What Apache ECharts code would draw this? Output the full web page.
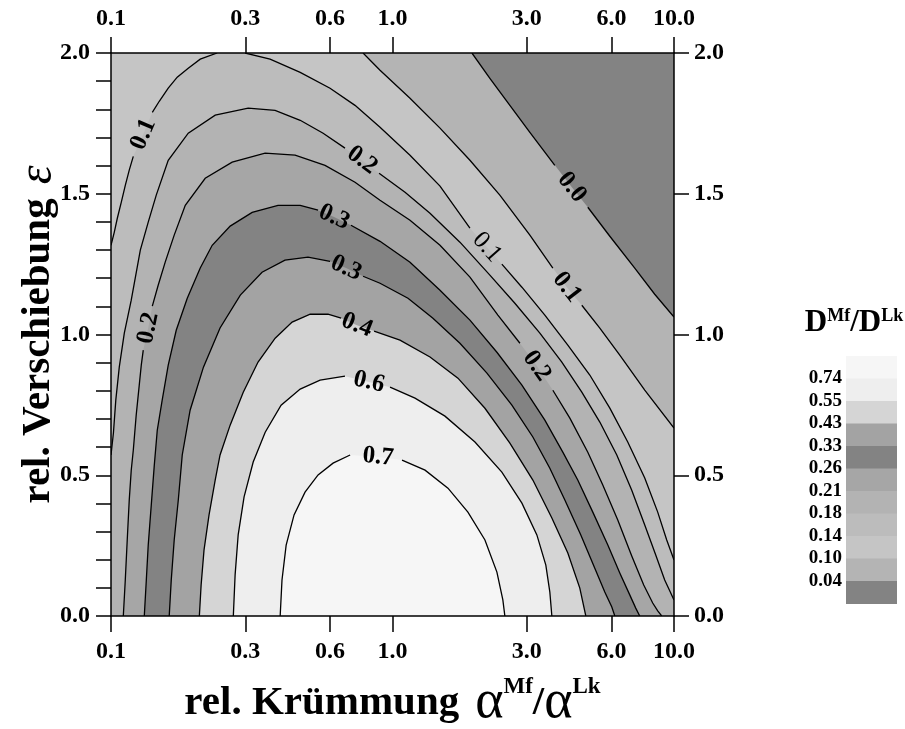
<!DOCTYPE html>
<html>
<head>
<meta charset="utf-8">
<script src="https://cdn.jsdelivr.net/npm/echarts@6/dist/echarts.min.js"></script>
<style>
  html, body { margin: 0; padding: 0; background: #ffffff; }
  #chart { width: 905px; height: 729px; }
</style>
</head>
<body>
<div id="chart"></div>
<script>
// Contour levels of D^Mf / D^Lk and the grey tone of each band (lowest band first)
const levels = [0.04, 0.10, 0.14, 0.18, 0.21, 0.26, 0.33, 0.43, 0.55, 0.74];
const bandColors = ['#838383', '#b4b4b4', '#c5c5c5', '#bcbcbc', '#b3b3b3', '#a6a6a6',
                    '#838383', '#a3a3a3', '#d5d5d5', '#eeeeee', '#f6f6f6'];

// Axis ticks
const xTicks = [0.1, 0.3, 0.6, 1, 3, 6, 10];
const xRange = [0.1, 10];
const yRange = [0, 2];

// Iso-lines as [alpha ratio, epsilon] pairs
const c004 = [[1.915, 2.0], [2.218, 1.910], [2.612, 1.814], [3.076, 1.718], [3.773, 1.601],
  [4.336, 1.523], [4.941, 1.452], [5.916, 1.349], [7.254, 1.236], [8.541, 1.143], [10, 1.062]];

const c010 = [[0.786, 2.0], [0.903, 1.9386], [1.154, 1.839], [1.475, 1.733], [1.884, 1.619],
  [2.406, 1.495], [3.076, 1.353], [3.712, 1.236], [4.162, 1.168], [4.704, 1.104],
  [5.451, 1.0226], [6.418, 0.9267], [7.872, 0.8024], [10, 0.6675]];

const c014a = [[0.2383, 2.0], [0.2075, 1.978], [0.1881, 1.946], [0.1719, 1.914], [0.1597, 1.875],
  [0.1484, 1.8285], [0.1402, 1.789], [0.1302, 1.711], [0.120, 1.633], [0.1161, 1.584],
  [0.1124, 1.530], [0.1088, 1.470], [0.1053, 1.413], [0.1027, 1.363], [0.100, 1.317]];

const c014b = [[0.2996, 2.0], [0.3674, 1.978], [0.470, 1.931], [0.600, 1.875], [0.736, 1.814],
  [0.903, 1.736], [1.154, 1.637], [1.475, 1.527], [1.884, 1.3776], [2.165, 1.310],
  [2.446, 1.250], [2.882, 1.168], [3.477, 1.069], [4.196, 0.962], [5.022, 0.856],
  [5.916, 0.7385], [6.850, 0.618], [7.872, 0.490], [8.753, 0.369], [9.422, 0.270], [10, 0.199]];

const c018 = [[0.100, 0.572], [0.102, 0.650], [0.104, 0.767], [0.107, 0.884], [0.1115, 1.005],
  [0.118, 1.122], [0.1271, 1.2995], [0.1356, 1.399], [0.1448, 1.495], [0.1597, 1.619],
  [0.1881, 1.715], [0.2345, 1.779], [0.3071, 1.804], [0.3828, 1.7965], [0.470, 1.761],
  [0.567, 1.715], [0.678, 1.662], [0.780, 1.619], [0.896, 1.573], [1.108, 1.505],
  [1.359, 1.431], [1.736, 1.328], [2.218, 1.211], [2.721, 1.111], [3.338, 1.005],
  [3.995, 0.902], [4.704, 0.795], [5.451, 0.689], [6.263, 0.572], [7.078, 0.447],
  [7.872, 0.323], [8.612, 0.217], [9.268, 0.128], [10, 0.057]];

const c021 = [[0.1106, 0], [0.1124, 0.128], [0.1142, 0.270], [0.1161, 0.412], [0.118, 0.518],
  [0.120, 0.589], [0.1229, 0.714], [0.126, 0.820], [0.1281, 0.891], [0.1302, 0.9445],
  [0.1356, 1.023], [0.1402, 1.101], [0.1471, 1.175], [0.1558, 1.257], [0.1677, 1.353],
  [0.1836, 1.459], [0.2161, 1.555], [0.2694, 1.612], [0.3527, 1.644], [0.4508, 1.637],
  [0.576, 1.601], [0.736, 1.541], [0.903, 1.477], [1.154, 1.406], [1.475, 1.317],
  [1.884, 1.204], [2.368, 1.069], [2.836, 0.969], [3.257, 0.888], [3.712, 0.802],
  [4.266, 0.703], [4.941, 0.582], [5.585, 0.465], [6.313, 0.341], [7.078, 0.213],
  [7.806, 0.110], [8.402, 0.046], [8.753, 0.018], [9.044, 0]];

const c026 = [[0.1313, 0], [0.1335, 0.128], [0.1356, 0.252], [0.139, 0.394], [0.1425, 0.536],
  [0.146, 0.660], [0.152, 0.767], [0.1597, 0.891], [0.1705, 1.015], [0.1866, 1.129],
  [0.2075, 1.236], [0.2288, 1.317], [0.2651, 1.385], [0.3173, 1.434], [0.392, 1.459],
  [0.470, 1.459], [0.544, 1.4415], [0.620, 1.417], [0.712, 1.388], [0.903, 1.331],
  [1.154, 1.257], [1.475, 1.157], [1.884, 1.051], [2.349, 0.937], [2.882, 0.820],
  [3.477, 0.696], [4.027, 0.582], [4.551, 0.483], [5.147, 0.369], [5.820, 0.252],
  [6.418, 0.153], [6.963, 0.075], [7.313, 0.028], [7.556, 0]];

const c033 = [[0.161, 0], [0.1637, 0.128], [0.1677, 0.270], [0.1734, 0.412], [0.1791, 0.572],
  [0.191, 0.731], [0.213, 0.884], [0.244, 1.023], [0.288, 1.140], [0.344, 1.221],
  [0.415, 1.264], [0.501, 1.275], [0.600, 1.260], [0.684, 1.236], [0.786, 1.207],
  [0.903, 1.182], [1.135, 1.129], [1.392, 1.058], [1.736, 0.969], [2.165, 0.863],
  [2.655, 0.749], [3.152, 0.636], [3.622, 0.525], [4.095, 0.412], [4.666, 0.288],
  [5.232, 0.170], [5.677, 0.085], [6.013, 0.032], [6.162, 0]];

const c043 = [[0.206, 0], [0.209, 0.110], [0.214, 0.234], [0.223, 0.359], [0.2345, 0.483],
  [0.244, 0.572], [0.265, 0.678], [0.295, 0.795], [0.333, 0.902], [0.383, 0.987],
  [0.440, 1.044], [0.510, 1.072], [0.590, 1.072], [0.657, 1.058], [0.748, 1.033],
  [0.860, 1.012], [1.063, 0.980], [1.359, 0.920], [1.708, 0.845], [2.130, 0.738],
  [2.612, 0.614], [3.152, 0.483], [3.682, 0.348], [4.196, 0.224], [4.628, 0.099], [4.861, 0]];

const c055 = [[0.272, 0], [0.276, 0.146], [0.283, 0.288], [0.297, 0.423], [0.320, 0.547],
  [0.353, 0.653], [0.402, 0.749], [0.470, 0.806], [0.553, 0.838], [0.678, 0.852],
  [0.825, 0.831], [0.980, 0.813], [1.202, 0.774], [1.536, 0.710], [1.963, 0.618],
  [2.446, 0.511], [2.882, 0.401], [3.257, 0.288], [3.505, 0.181], [3.622, 0.085], [3.682, 0]];

const c074 = [[0.399, 0], [0.405, 0.128], [0.419, 0.252], [0.447, 0.359], [0.489, 0.440],
  [0.544, 0.501], [0.615, 0.543], [0.707, 0.572], [0.889, 0.565], [1.081, 0.554],
  [1.305, 0.518], [1.574, 0.454], [1.853, 0.369], [2.130, 0.270], [2.349, 0.156],
  [2.466, 0.057], [2.507, 0]];

// Plot corners used to close the filled regions
const BL = [xRange[0], yRange[0]];
const BR = [xRange[1], yRange[0]];
const TL = [xRange[0], yRange[1]];

// Region where the ratio is at least levels[i]; drawn in ascending order
const fillPaths = [
  c004.concat([BR, BL, TL]),
  c010.concat([BR, BL, TL]),
  c014b.concat([BR, BL], c014a.slice().reverse()),
  c018.concat([BR, BL]),
  c021, c026, c033, c043, c055, c074
];

// Iso-lines with the index of the point carrying the inline label
const contours = [
  { level: levels[0], pts: c004, at: [5], weight: 'bold' },
  { level: levels[1], pts: c010, at: [8], weight: 'bold' },
  { level: levels[2], pts: c014a, at: [7], weight: 'bold' },
  { level: levels[2], pts: c014b, at: [9], weight: 'normal' },
  { level: levels[3], pts: c018, at: [17], weight: 'bold' },
  { level: levels[4], pts: c021, at: [10, 28], weight: 'bold' },
  { level: levels[5], pts: c026, at: [17], weight: 'bold' },
  { level: levels[6], pts: c033, at: [13], weight: 'bold' },
  { level: levels[7], pts: c043, at: [14], weight: 'bold' },
  { level: levels[8], pts: c055, at: [10], weight: 'bold' },
  { level: levels[9], pts: c074, at: [8], weight: 'bold' }
];

const serif = '"Liberation Serif", "Times New Roman", serif';
const tickFont = { fontFamily: serif, fontWeight: 'bold', fontSize: 24, color: '#000' };
const black = { color: '#000', width: 1.5 };

function renderFill(params, api) {
  const pts = fillPaths[params.dataIndex].map(p => api.coord(p));
  return {
    type: 'polygon',
    shape: { points: pts },
    style: { fill: bandColors[params.dataIndex + 1], stroke: null }
  };
}

function renderLine(params, api) {
  const c = contours[params.dataIndex];
  const px = c.pts.map(p => api.coord(p));
  const children = [];
  let start = 0;
  const addLine = seg => {
    if (seg.length > 1) {
      children.push({
        type: 'polyline',
        shape: { points: seg },
        style: { stroke: '#000', lineWidth: 1.3, fill: null }
      });
    }
  };
  c.at.forEach(k => {
    addLine(px.slice(start, k));
    start = k + 1;
  });
  addLine(px.slice(start));
  c.at.forEach(k => {
    const a = px[k - 1], b = px[k + 1];
    let ang = Math.atan2(b[1] - a[1], b[0] - a[0]);
    if (ang > Math.PI / 2) ang -= Math.PI;
    if (ang < -Math.PI / 2) ang += Math.PI;
    children.push({
      type: 'text',
      x: px[k][0],
      y: px[k][1],
      rotation: -ang,
      style: {
        text: c.level.toFixed(1),
        fill: '#000',
        fontFamily: serif,
        fontWeight: c.weight,
        fontSize: 25,
        align: 'center',
        verticalAlign: 'middle',
        textAlign: 'center',
        textVerticalAlign: 'middle'
      }
    });
  });
  return { type: 'group', children };
}

// Legend: grey bands from highest to lowest value with the level between neighbours
const legendTop = 356, legendStep = 22.5, legendX = 846, legendW = 51;
const legendGraphics = [];
bandColors.slice().reverse().forEach((col, i) => {
  legendGraphics.push({
    type: 'rect',
    shape: { x: legendX, y: legendTop + i * legendStep, width: legendW, height: legendStep + 0.5 },
    style: { fill: col, stroke: null }
  });
});
levels.slice().reverse().forEach((lv, i) => {
  legendGraphics.push({
    type: 'text',
    x: 842,
    y: legendTop + (i + 1) * legendStep,
    style: {
      text: lv.toFixed(2), fill: '#000', fontFamily: serif, fontWeight: 'bold', fontSize: 19,
      align: 'right', verticalAlign: 'middle', textAlign: 'right', textVerticalAlign: 'middle'
    }
  });
});
legendGraphics.push({
  type: 'text',
  x: 854,
  y: 323,
  style: {
    text: '{d|D}{s|Mf}{d|/D}{s|Lk}',
    align: 'center', verticalAlign: 'middle', textAlign: 'center', textVerticalAlign: 'middle',
    rich: {
      d: { fontFamily: serif, fontWeight: 'bold', fontSize: 31, fill: '#000', color: '#000' },
      s: { fontFamily: serif, fontWeight: 'bold', fontSize: 18, fill: '#000', color: '#000', verticalAlign: 'top' }
    }
  }
});

const xAxisBase = {
  type: 'log',
  logBase: 10,
  min: xRange[0],
  max: xRange[1],
  z: 10,
  axisLine: { show: true, onZero: false, lineStyle: black },
  axisTick: { show: true, length: 16, customValues: xTicks, lineStyle: black },
  axisLabel: Object.assign({ customValues: xTicks, formatter: v => Number(v).toFixed(1), margin: 24 }, tickFont),
  splitLine: { show: false },
  minorTick: { show: false },
  minorSplitLine: { show: false }
};

const chart = echarts.init(document.getElementById('chart'), null, { renderer: 'canvas' });
chart.setOption({
  animation: false,
  backgroundColor: '#ffffff',
  grid: {
    left: 111, right: 231, top: 53, bottom: 113,
    containLabel: false,
    outerBoundsMode: 'none',
    show: true, backgroundColor: bandColors[0], borderWidth: 0
  },
  xAxis: [
    Object.assign({}, xAxisBase, {
      position: 'bottom',
      name: '{t|rel. Krümmung}{a|α}{s|Mf}{t|/}{b|α}{s|Lk}',
      nameLocation: 'middle',
      nameMoveOverlap: false,
      nameGap: 60,
      nameTextStyle: {
        fontSize: 40,
        rich: {
          t: { fontFamily: serif, fontWeight: 'bold', fontSize: 41, color: '#000' },
          a: { fontFamily: serif, fontWeight: 'normal', fontSize: 54, color: '#000', padding: [0, 0, 0, 16] },
          b: { fontFamily: serif, fontWeight: 'normal', fontSize: 54, color: '#000' },
          s: { fontFamily: serif, fontWeight: 'bold', fontSize: 23, color: '#000', verticalAlign: 'top' }
        }
      }
    }),
    Object.assign({}, xAxisBase, {
      position: 'top',
      axisLabel: Object.assign({ customValues: xTicks, formatter: v => Number(v).toFixed(1), margin: 22 }, tickFont)
    })
  ],
  yAxis: [
    {
      type: 'value', min: yRange[0], max: yRange[1], interval: 0.5, position: 'left', z: 10,
      axisLine: { show: true, lineStyle: black },
      axisTick: { show: true, length: 15, lineStyle: black },
      minorTick: { show: true, splitNumber: 5, length: 15, lineStyle: black },
      axisLabel: Object.assign({ formatter: v => v.toFixed(1), margin: 21 }, tickFont),
      splitLine: { show: false },
      minorSplitLine: { show: false },
      name: '{t|rel. Verschiebung}{e|ε}',
      nameLocation: 'middle',
      nameMoveOverlap: false,
      nameGap: 49,
      nameRotate: 90,
      nameTextStyle: {
        fontSize: 40,
        rich: {
          t: { fontFamily: serif, fontWeight: 'bold', fontSize: 41, color: '#000' },
          e: { fontFamily: serif, fontStyle: 'italic', fontWeight: 'normal', fontSize: 48, color: '#000', padding: [0, 0, 0, 14] }
        }
      }
    },
    {
      type: 'value', min: yRange[0], max: yRange[1], interval: 0.5, position: 'right', z: 10,
      axisLine: { show: true, lineStyle: black },
      axisTick: { show: true, length: 15, lineStyle: black },
      axisLabel: Object.assign({ formatter: v => v.toFixed(1), margin: 20 }, tickFont),
      splitLine: { show: false }
    }
  ],
  graphic: legendGraphics,
  series: [
    {
      type: 'custom',
      name: 'bands',
      coordinateSystem: 'cartesian2d',
      xAxisIndex: 0,
      yAxisIndex: 0,
      clip: true,
      silent: true,
      z: 2,
      encode: { x: 0, y: 1 },
      data: fillPaths.map((p, i) => [1, 1, i]),
      renderItem: renderFill
    },
    {
      type: 'custom',
      name: 'isolines',
      coordinateSystem: 'cartesian2d',
      xAxisIndex: 0,
      yAxisIndex: 0,
      clip: true,
      silent: true,
      z: 3,
      encode: { x: 0, y: 1 },
      data: contours.map((c, i) => [1, 1, i]),
      renderItem: renderLine
    }
  ]
});
</script>
</body>
</html>
